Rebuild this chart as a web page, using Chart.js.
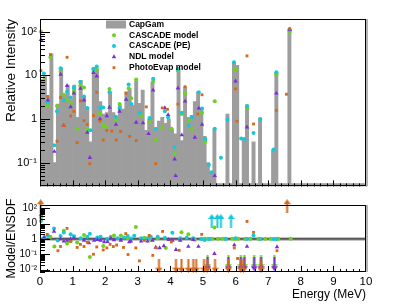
<!DOCTYPE html>
<html>
<head>
<meta charset="utf-8">
<script src="https://cdn.jsdelivr.net/npm/chart.js@4.4.1/dist/chart.umd.min.js"></script>
<style>
  html, body { margin: 0; padding: 0; background: #fff; }
  #wrap { position: relative; width: 407px; height: 305px; }
  #top { position: absolute; left: 0; top: 0; }
  #bot { position: absolute; left: 0; top: 196px; }
</style>
</head>
<body>
<div id="wrap">
  <canvas id="top" width="407" height="196"></canvas>
  <canvas id="bot" width="407" height="109"></canvas>
</div>
<script>
// ---- data ----
// CapGam histogram, 0.1 MeV bins (bin centres)
const capgamE = [
  0.05,0.15,0.25,0.35,0.45,0.55,0.65,0.75,0.85,0.95,
  1.05,1.15,1.25,1.35,1.45,1.55,1.65,1.75,1.85,1.95,
  2.05,2.15,2.25,2.35,2.45,2.55,2.65,2.75,2.85,2.95,
  3.05,3.15,3.25,3.35,3.45,3.55,3.65,3.75,3.85,3.95,
  4.05,4.15,4.25,4.35,4.45,4.55,4.65,4.75,4.85,4.95,
  5.05,5.15,5.25,5.35,5.45,5.55,5.65,5.75,5.85,5.95,
  6.05,6.15,6.25,6.35,6.45,6.55,6.65,6.75,6.85,6.95,
  7.05,7.15,7.25,7.35,7.45,7.55,7.65,7.75,7.85,7.95,
  8.05,8.15,8.25,8.35,8.45,8.55,8.65,8.75,8.85,8.95,
  9.05,9.15,9.25,9.35,9.45,9.55,9.65,9.75,9.85,9.95
];
const capgamV = [
  8,10,3.2,31,0.1,2.2,15,3.6,6,2.8,
  6,1.1,7.7,3.2,1.8,0.3,15,14,2.5,1.3,
  1.4,4.2,1.4,1.1,2.1,1.7,4.2,5,2.1,7.4,
  2.3,4.6,0.55,1.0,7,0.55,0.9,1.1,0.8,1.0,
  0.6,0.46,14,0.32,5.4,1.1,1.2,2.5,4.2,1.8,
  0.4,0.1,0.06,0.6,0.033,0.033,0.033,1.3,0.033,19,
  17,0.033,0.35,2.1,0.033,0.3,0.033,1.05,0.033,0.033,
  0.033,0.2,11.7,0.033,0.033,0.033,117,0.033,0.033,0.033,
  0.033,0.033,0.033,0.033,0.033,0.033,0.033,0.033,0.033,0.033,
  0.033,0.033,0.033,0.033,0.033,0.033,0.033,0.033,0.033,0.033
];

// model intensities (top panel)
const cascadeE = [0.03,0.13,0.24,0.32,0.52,0.63,0.73,0.83,0.94,1.04,1.14,1.24,1.35,1.45,1.64,1.74,1.84,1.94,2.03,2.13,2.33,2.44,2.72,2.80,2.95,3.13,3.36,3.47,3.55,3.75,4.03,4.13,4.23,4.35,4.45,4.56,4.66,4.97,5.07,5.36,6.00,6.35,7.25,7.66];
const cascadeV = [100,7.7,2.1,26,2.0,12.3,3.6,2.7,2.3,4.2,0.6,5.8,5.3,0.57,14,14,1.34,0.71,0.67,4.9,0.95,2.2,5.1,3.0,8.1,1.18,0.84,7.4,0.33,0.63,0.6,0.16,13,1.3,3.9,0.92,0.6,1.4,0.3,2.55,13.6,1.8,10.5,100];

const casPeE = [0.12,0.24,0.44,0.52,0.63,0.73,0.83,0.94,1.04,1.24,1.35,1.45,1.55,1.64,1.74,1.84,1.94,2.13,2.33,2.44,2.72,2.80,3.06,3.36,3.47,3.55,3.83,3.93,4.13,4.23,4.35,4.56,4.66,4.87,4.97,5.07,5.18,5.26,5.36,5.55,5.75,5.95,6.17,6.27,6.35,6.55,6.76,7.17,7.25,7.66];
const casPeV = [11,2.4,0.25,1.5,14.5,2.7,4.2,3.1,5.2,7.1,3.3,1.8,0.55,14,16,1.8,1.85,4.1,1.13,1.8,6.2,2.2,1.4,1.05,8.4,0.6,1.5,1.1,0.23,14,1.4,0.71,1.12,4.1,1.75,0.35,0.09,0.06,0.6,0.13,0.95,20,0.36,0.35,2.0,0.48,1.0,0.2,11.8,109];

const ndlE = [0.03,0.24,0.44,0.63,0.73,0.83,0.94,1.04,1.24,1.35,1.45,1.53,1.64,1.74,1.84,2.05,2.13,2.33,2.44,2.64,2.95,3.16,3.33,3.47,3.83,3.93,4.13,4.16,4.23,4.35,4.45,4.75,4.87,4.97,5.36,6.00,6.35,7.25,7.66];
const ndlV = [66,2.7,0.18,10.5,0.71,5.8,1.9,3.9,5.0,2.7,0.49,0.13,11.5,9.6,1.0,1.18,1.85,0.75,1.5,2.8,0.84,0.81,0.46,4.6,1.8,1.25,0.12,0.05,5.1,0.43,2.55,0.38,1.76,0.75,0.05,7.4,0.65,3.9,113];

const photoE = [0.03,0.24,0.32,0.52,0.63,0.73,0.83,0.94,1.04,1.14,1.24,1.35,1.45,1.53,1.64,1.74,1.84,1.94,2.05,2.20,2.34,2.47,2.64,2.75,2.95,3.26,3.55,3.75,3.91,4.23,4.45,4.84,4.97,6.00,6.04,6.35,6.55,7.25,7.56,7.66];
const photoV = [12.9,3.3,30,0.31,3.1,0.71,26,1.17,1.5,0.29,2.6,0.92,0.75,0.095,1.2,4.1,0.9,0.33,0.55,0.53,0.33,0.52,3.9,0.4,0.32,1.9,0.095,1.8,1.67,2.2,5.5,1.3,3.6,4.9,0.89,28,0.77,1.58,3.7,118];

// model / ENSDF ratios (bottom panel)
const rCasE = [0.03,0.13,0.32,0.44,0.73,0.83,0.94,1.04,1.14,1.35,1.53,1.76,1.94,2.17,2.27,2.48,2.69,2.94,3.20,3.40,3.61,3.86,4.34,4.55,4.75,5.06,5.15,5.28,5.35,5.46,5.59,5.68,5.90,5.99,6.08,6.30,6.45,6.70,6.91,7.07,7.31,7.69];
const rCasV = [25,1.1,1.4,0.32,3.5,0.5,0.7,1.4,0.58,1.8,0.067,1.2,0.35,1.4,1.7,1.7,1.1,6.0,1.2,0.9,1.1,0.26,2.7,2.0,0.9,1.05,1.05,1.05,5.6,1.05,1.05,1.05,1.05,1.05,1.05,1.05,1.05,1.05,1.05,1.05,1.05,1.05];

const rPeE = [0.03,0.13,0.24,0.43,0.545,0.63,0.73,0.94,1.04,1.25,1.45,1.53,1.76,1.86,2.07,2.38,2.58,2.69,2.79,2.89,3.10,3.30,3.40,3.61,3.83,4.06,4.30,4.50,4.70,4.95,5.05,5.20,5.70,6.00,6.35,6.55,6.76,7.17,7.25];
const rPeV = [15,1.25,1.7,4.9,0.8,1.57,2.6,2.0,1.5,1.1,1.4,2.2,1.25,1.4,1.0,1.1,1.25,1.57,1.09,1.6,1.1,1.1,1.4,1.4,1.2,2.5,1.1,1.2,1.1,1.0,0.85,1.0,1.0,1.1,1.0,1.7,1.0,1.0,1.0];

const rNdlE = [0.03,0.13,0.43,0.63,0.73,0.83,0.94,1.04,1.35,1.50,1.66,1.76,1.86,1.97,2.07,2.17,2.27,2.48,2.74,2.79,3.10,3.30,3.45,3.55,3.67,3.80,3.95,4.06,4.17,4.30,4.55,4.70,4.86,5.35,5.96,6.35,7.27];
const rNdlV = [40,1.3,3.1,1.0,0.7,0.8,1.0,1.1,0.8,0.55,0.8,0.9,0.8,0.64,0.65,1.1,0.85,0.8,0.64,0.7,0.7,0.7,0.8,0.28,0.26,0.35,0.9,0.8,0.2,0.8,0.32,0.9,0.32,0.11,0.4,0.32,0.3];

const rPhE = [0.22,0.55,0.63,0.83,0.94,1.14,1.24,1.35,1.45,1.64,1.74,1.94,2.05,2.15,2.25,2.35,2.56,2.63,2.70,2.94,3.05,3.20,3.35,3.46,3.56,3.76,4.03,4.27,4.96,5.96,6.06,6.35,6.55,7.27];
const rPhV = [2.0,0.17,0.32,4.9,0.7,0.28,0.44,0.32,0.6,0.1,0.3,0.19,0.26,0.44,0.32,0.4,0.28,2.25,0.096,0.26,0.037,0.8,1.7,0.084,0.26,3.1,0.64,0.18,2.0,0.26,0.053,14,2.7,0.17];

// off-scale markers (arrows)
const peUpE = [5.27,5.44,5.55,5.86];
const peUpV = [15,15,15,15];
const casDownE = [5.14,5.78,6.16,6.27,6.57,6.78,7.19];
const casDownV = [0.03,0.03,0.03,0.03,0.03,0.03,0.03];
const ndlDownE = [5.14,5.78,6.16,6.27,6.57,6.78,7.19];
const ndlDownV = [0.022,0.022,0.022,0.022,0.022,0.022,0.022];
const phDownE = [3.65,4.17,4.34,4.55,4.70,4.79,5.03,5.13,5.37,5.78,6.16,6.24,6.78];
const phDownV = [0.018,0.018,0.018,0.018,0.018,0.018,0.018,0.018,0.018,0.018,0.018,0.018,0.018];
const phUpE = [0.02,7.58];
const phUpV = [140,140];

const unityE = [0, 10];
const unityV = [1, 1];

// axis ticks
const xTicks = [0,1,2,3,4,5,6,7,8,9,10];
const topTicks = [0.1, 1, 10, 100];
const topTickLabels = ['10\u207B\u00B9', '1', '10', '10\u00B2'];
const botTicks = [0.01, 0.1, 1, 10, 100];
const botTickLabels = ['10\u207B\u00B2', '10\u207B\u00B9', '1', '10', '10\u00B2'];

// ---- styles ----
const GRAY = '#9d9d9d';
const GREEN = '#6ed21c';
const CYAN = '#14c8d8';
const PURPLE = '#7b2fd8';
const ORANGE = '#d6681a';
const FONT = "'Liberation Sans', Arial, Helvetica, sans-serif";

Chart.defaults.font.family = FONT;
Chart.defaults.color = '#000';

function pts(xs, ys) {
  return xs.map((x, i) => ({ x: x, y: ys[i] }));
}

function marks(label, xs, ys, color, style, r, order) {
  return {
    type: 'line', label: label, data: pts(xs, ys), showLine: false,
    pointStyle: style, pointRadius: r, pointHoverRadius: r, pointBorderWidth: 0,
    pointBackgroundColor: color, pointBorderColor: color,
    borderColor: color, backgroundColor: color, order: order, clip: false
  };
}

function arrowImg(color, up) {
  const c = document.createElement('canvas');
  c.width = 7; c.height = 14;
  const g = c.getContext('2d');
  g.fillStyle = color;
  g.beginPath();
  if (up) {
    g.moveTo(3.5, 0); g.lineTo(7, 5); g.lineTo(0, 5);
    g.fill();
    g.fillRect(2.5, 5, 2, 9);
  } else {
    g.fillRect(2.5, 0, 2, 9);
    g.moveTo(0, 9); g.lineTo(7, 9); g.lineTo(3.5, 14);
    g.fill();
  }
  return c;
}

// ROOT-like frame with inward tick marks
const rootAxes = {
  id: 'rootAxes',
  afterDatasetsDraw(chart, args, opts) {
    const { ctx, chartArea: a } = chart;
    const xs = chart.scales.x, ys = chart.scales.y;
    ctx.save();
    ctx.strokeStyle = '#000';
    ctx.lineWidth = 1;
    ctx.beginPath();
    for (let k = 0; k <= 50; k++) {
      const px = Math.round(xs.getPixelForValue(k / 5)) + 0.5;
      const len = k % 5 === 0 ? opts.xMajor : opts.xMinor;
      ctx.moveTo(px, a.bottom);
      ctx.lineTo(px, a.bottom - len);
    }
    const d0 = Math.floor(Math.log10(ys.min)), d1 = Math.ceil(Math.log10(ys.max));
    for (let d = d0; d <= d1; d++) {
      for (let m = 1; m <= 9; m++) {
        const v = m * Math.pow(10, d);
        if (v < ys.min || v > ys.max) continue;
        const py = Math.round(ys.getPixelForValue(v)) + 0.5;
        ctx.moveTo(a.left, py);
        ctx.lineTo(a.left + (m === 1 ? opts.yMajor : opts.yMinor), py);
      }
    }
    ctx.stroke();
    ctx.strokeRect(Math.round(a.left) + 0.5, Math.round(a.top) + 0.5,
                   Math.round(a.width) - 1, Math.round(a.height) - 1);
    ctx.fillStyle = '#b4b4b4';
    ctx.fillRect(Math.round(a.right), a.top, 2, a.height);
    ctx.restore();
  }
};

// legend in the top-left of the upper pad
const rootLegend = {
  id: 'rootLegend',
  afterDraw(chart) {
    const ctx = chart.ctx;
    ctx.save();
    ctx.font = 'bold 8.5px ' + FONT;
    ctx.textBaseline = 'middle';
    chart.data.datasets.forEach((ds, i) => {
      const y = 24.5 + i * 10.8;
      if (ds.type === 'bar') {
        ctx.fillStyle = ds.backgroundColor;
        ctx.fillRect(106, y - 4, 20, 8);
      } else {
        ctx.fillStyle = ds.pointBackgroundColor;
        Chart.helpers.drawPoint(ctx, { pointStyle: ds.pointStyle, radius: ds.pointRadius, borderWidth: 0, rotation: 0 }, 114, y);
      }
      ctx.fillStyle = '#000';
      ctx.fillText(ds.label, 129, y);
    });
    ctx.restore();
  }
};

/* ---------------- UPPER PAD ---------------- */
new Chart(document.getElementById('top'), {
  type: 'bar',
  data: {
    datasets: [
      {
        type: 'bar', label: 'CapGam', data: pts(capgamE, capgamV),
        backgroundColor: GRAY, borderWidth: 0,
        barPercentage: 1, categoryPercentage: 1, order: 10
      },
      marks('CASCADE model', cascadeE, cascadeV, GREEN, 'circle', 2, 4),
      marks('CASCADE (PE)', casPeE, casPeV, CYAN, 'circle', 2, 3),
      marks('NDL model', ndlE, ndlV, PURPLE, 'triangle', 2.6, 2),
      marks('PhotoEvap model', photoE, photoV, ORANGE, 'rect', 2, 1)
    ]
  },
  options: {
    responsive: false,
    animation: false,
    layout: { padding: { top: 19, right: 41, bottom: 1, left: 0 } },
    plugins: {
      legend: { display: false },
      tooltip: { enabled: false },
      rootAxes: { xMajor: 6, xMinor: 3, yMajor: 10, yMinor: 5 }
    },
    scales: {
      x: { type: 'linear', min: 0, max: 10, offset: false, display: false },
      y: {
        type: 'logarithmic', min: 0.0286, max: 196,
        grid: { display: false, drawTicks: false },
        border: { display: false },
        afterBuildTicks: s => { s.ticks = topTicks.map(v => ({ value: v })); },
        afterFit: s => { s.width = 40; },
        ticks: {
          autoSkip: false, padding: 3, font: { size: 11 },
          callback: v => topTickLabels[topTicks.indexOf(v)]
        },
        title: {
          display: true, text: 'Relative Intensity', align: 'end',
          font: { size: 13.5 }, padding: { top: 3, bottom: 0 }
        }
      }
    }
  },
  plugins: [rootAxes, rootLegend]
});

/* ---------------- LOWER PAD ---------------- */
new Chart(document.getElementById('bot'), {
  type: 'line',
  data: {
    datasets: [
      marks('up PE', peUpE, peUpV, CYAN, arrowImg(CYAN, true), 3, 5),
      marks('up PhotoEvap', phUpE, phUpV, ORANGE, arrowImg(ORANGE, true), 3, 5),
      marks('down CASCADE', casDownE, casDownV, GREEN, arrowImg(GREEN, false), 3, 7),
      marks('down NDL', ndlDownE, ndlDownV, PURPLE, arrowImg(PURPLE, false), 3, 6),
      marks('down PhotoEvap', phDownE, phDownV, ORANGE, arrowImg(ORANGE, false), 3, 5),
      marks('CASCADE model', rCasE, rCasV, GREEN, 'circle', 2, 4),
      marks('CASCADE (PE)', rPeE, rPeV, CYAN, 'circle', 2, 3),
      marks('NDL model', rNdlE, rNdlV, PURPLE, 'triangle', 2.6, 2),
      marks('PhotoEvap model', rPhE, rPhV, ORANGE, 'rect', 2, 1),
      {
        type: 'line', label: 'unity', data: pts(unityE, unityV),
        borderColor: '#000', borderWidth: 1, pointRadius: 0, order: 19
      },
      {
        type: 'line', label: 'band', data: pts(unityE, unityV),
        borderColor: 'rgba(150,150,150,0.55)', borderWidth: 4, pointRadius: 0, order: 20
      }
    ]
  },
  options: {
    responsive: false,
    animation: false,
    layout: { padding: { top: 1, right: 41, bottom: 0, left: 0 } },
    plugins: {
      legend: { display: false },
      tooltip: { enabled: false },
      rootAxes: { xMajor: 6, xMinor: 3, yMajor: 10, yMinor: 5 }
    },
    scales: {
      x: {
        type: 'linear', min: 0, max: 10, offset: false,
        grid: { display: false, drawTicks: false },
        border: { display: false },
        afterBuildTicks: s => { s.ticks = xTicks.map(v => ({ value: v })); },
        afterFit: s => { s.height = 33; },
        ticks: { autoSkip: false, maxRotation: 0, padding: 3, font: { size: 11.5 }, callback: v => String(v) },
        title: {
          display: true, text: 'Energy (MeV)', align: 'end',
          font: { size: 12 }, padding: { top: 0, bottom: 3 }
        }
      },
      y: {
        type: 'logarithmic', min: 0.0069, max: 166,
        grid: { display: false, drawTicks: false },
        border: { display: false },
        afterBuildTicks: s => { s.ticks = botTicks.map(v => ({ value: v })); },
        afterFit: s => { s.width = 40; },
        ticks: {
          autoSkip: false, padding: 3, font: { size: 10 },
          callback: v => botTickLabels[botTicks.indexOf(v)]
        },
        title: {
          display: true, text: 'Model/ENSDF', align: 'center',
          font: { size: 12.5 }, padding: { top: 4, bottom: 0 }
        }
      }
    }
  },
  plugins: [rootAxes]
});
</script>
</body>
</html>
